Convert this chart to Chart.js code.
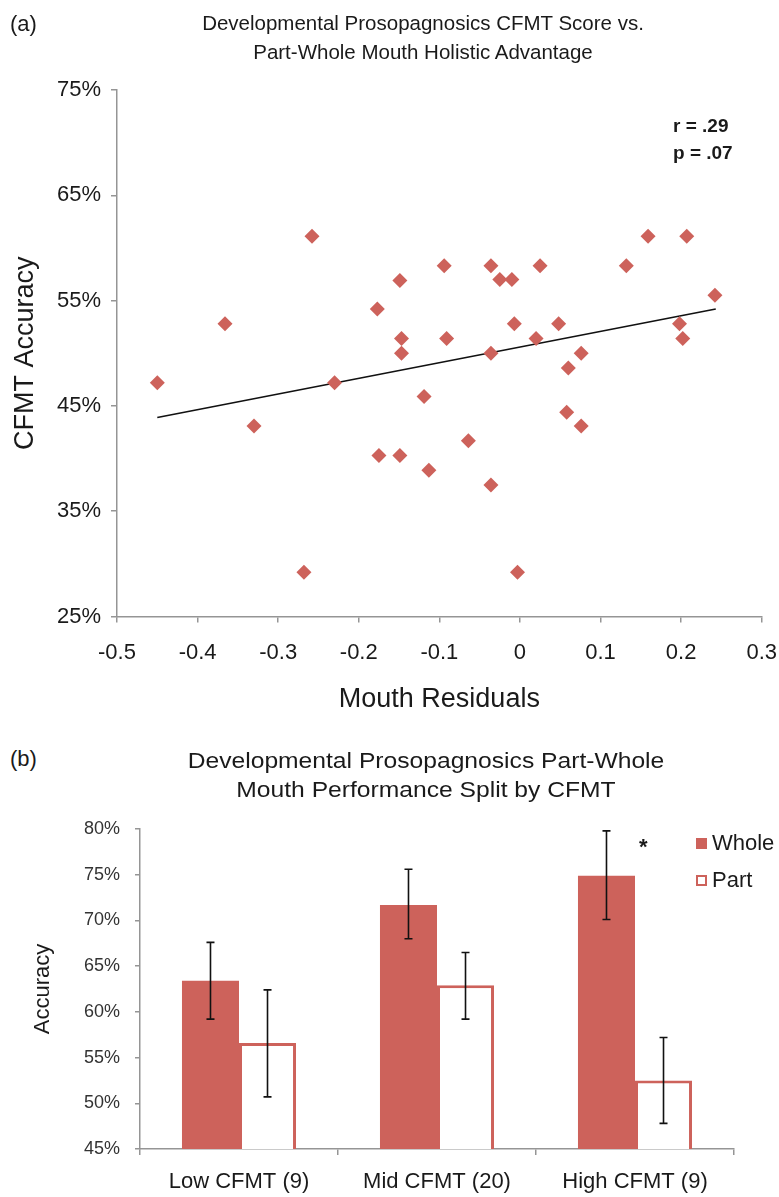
<!DOCTYPE html>
<html>
<head>
<meta charset="utf-8">
<script src="https://cdn.jsdelivr.net/npm/chart.js@4.4.1/dist/chart.umd.min.js"></script>
<style>
	body { margin: 0; background: #fff; font-family: "Liberation Sans", Arial, sans-serif; color: #1a1a1a; }
	#page { position: relative; width: 779px; height: 1197px; overflow: hidden; }
	.box { position: absolute; left: 0; width: 779px; }
	.lbl { position: absolute; white-space: nowrap; }
	.title { position: absolute; left: 0; width: 846px; text-align: center; line-height: 29px; white-space: nowrap; }
	.leg { position: absolute; left: 696px; font-size: 22px; line-height: 26px; }
	.leg span { display: inline-block; width: 11px; height: 11px; margin-right: 5px; box-sizing: border-box; vertical-align: 1px; }
</style>
</head>
<body>
<div id="page">
	<div class="box" style="top:0; height:716px; width:794px;"><canvas id="scatterChart"></canvas></div>
	<div class="box" style="top:800px; height:397px;"><canvas id="barChart"></canvas></div>

	<div class="lbl" style="left:10px; top:9px; font-size:22px; line-height:29px;">(a)</div>
	<div class="title" style="top:8px; font-size:20.5px;">Developmental Prosopagnosics CFMT Score vs.<br>Part-Whole Mouth Holistic Advantage</div>
	<div class="lbl" style="left:673px; top:112px; font-size:19px; font-weight:bold; line-height:27px;">r = .29<br>p = .07</div>

	<div class="lbl" style="left:10px; top:744px; font-size:22px; line-height:29px;">(b)</div>
	<div class="title" style="top:746px; font-size:22px; width:852px; transform:scaleX(1.12); transform-origin:426px 0;">Developmental Prosopagnosics Part-Whole<br>Mouth Performance Split by CFMT</div>
	<div class="lbl" style="left:639px; top:834px; font-size:22px; font-weight:bold;">*</div>
	<div id="legend"></div>
</div>

<script>
// (a) scatter: mouth residuals vs CFMT accuracy (%)
var residX = [-0.450, -0.366, -0.330, -0.258, -0.230, -0.177, -0.175, -0.149, -0.149, -0.147,
	-0.147, -0.119, -0.113, -0.094, -0.091, -0.064, -0.036, -0.036, -0.036, -0.025,
	-0.010, -0.007, -0.003, 0.020, 0.025, 0.048, 0.058, 0.060, 0.076, 0.076,
	0.132, 0.159, 0.198, 0.202, 0.207, 0.242, -0.268];
var cfmtAcc = [47.2, 52.8, 43.1, 61.1, 47.2, 54.2, 40.3, 56.9, 40.3, 51.4,
	50.0, 45.9, 38.9, 58.3, 51.4, 41.7, 58.3, 50.0, 37.5, 57.0,
	57.0, 52.8, 29.2, 51.4, 58.3, 52.8, 44.4, 48.6, 50.0, 43.1,
	58.3, 61.1, 52.8, 51.4, 61.1, 55.5, 29.2];
// trend line end points
var fitX = [-0.450, 0.243];
var fitY = [43.9, 54.2];

// (b) bars: accuracy (%) by CFMT group
var groups = ["Low CFMT (9)", "Mid CFMT (20)", "High CFMT (9)"];
var seriesNames = ["Whole", "Part"];
var wholeAcc = [63.4, 71.7, 74.9];
var partAcc = [56.6, 62.9, 52.5];
var wholeHi = [67.6, 75.6, 79.8];
var wholeLo = [59.2, 68.0, 70.1];
var partHi = [62.4, 66.5, 57.2];
var partLo = [50.7, 59.2, 47.8];

var red = "#cd625b";
var axisGrey = "#959595";

Chart.defaults.font.family = '"Liberation Sans", Arial, sans-serif';
Chart.defaults.color = "#1a1a1a";
Chart.defaults.animation = false;

var points = [];
for (var i = 0; i < residX.length; i++) {
	points.push({ x: residX[i], y: cfmtAcc[i] });
}
var fitLine = [];
for (var k = 0; k < fitX.length; k++) {
	fitLine.push({ x: fitX[k], y: fitY[k] });
}

new Chart(document.getElementById("scatterChart"), {
	type: "scatter",
	data: {
		datasets: [
			{
				data: points,
				pointStyle: "rectRot",
				pointRadius: 7.5,
				pointBorderWidth: 0,
				backgroundColor: red,
				borderColor: red,
			},
			{
				type: "line",
				data: fitLine,
				borderColor: "#111",
				borderWidth: 1.6,
				pointRadius: 0,
				fill: false,
			},
		],
	},
	options: {
		responsive: true,
		maintainAspectRatio: false,
		layout: { padding: { top: 90, right: 1, left: 0, bottom: 0 } },
		plugins: { legend: { display: false }, tooltip: { enabled: false } },
		scales: {
			x: {
				type: "linear",
				min: -0.5,
				max: 0.3,
				ticks: {
					stepSize: 0.1,
					font: { size: 22 },
					padding: 17,
					callback: function (v) {
						return (Math.round(v * 10) / 10).toString();
					},
				},
				grid: { drawOnChartArea: false, tickLength: 6, color: axisGrey, lineWidth: 1.5 },
				border: { color: axisGrey, width: 1.5 },
				title: { display: true, text: "Mouth Residuals", font: { size: 27 }, padding: { top: 0, bottom: 0 } },
				afterFit: function (scale) {
					scale.height = 99.5;
				},
			},
			y: {
				min: 25,
				max: 75,
				ticks: {
					stepSize: 10,
					font: { size: 22 },
					padding: 10,
					callback: function (v) {
						return v + "%";
					},
				},
				grid: { drawOnChartArea: false, tickLength: 6, color: axisGrey, lineWidth: 1.5 },
				border: { color: axisGrey, width: 1.5 },
				title: { display: true, text: "CFMT Accuracy", font: { size: 27 }, padding: { top: 9, bottom: 0 } },
				afterFit: function (scale) {
					scale.width = 117;
				},
			},
		},
	},
});

// error bars for the grouped bars
var errorBars = {
	id: "errorBars",
	afterDatasetsDraw: function (chart) {
		var ctx = chart.ctx;
		var yScale = chart.scales.y;
		ctx.save();
		ctx.strokeStyle = "#111";
		ctx.lineWidth = 1.6;
		chart.data.datasets.forEach(function (ds, di) {
			var meta = chart.getDatasetMeta(di);
			meta.data.forEach(function (bar, j) {
				var top = yScale.getPixelForValue(ds.errHi[j]);
				var bot = yScale.getPixelForValue(ds.errLo[j]);
				ctx.beginPath();
				ctx.moveTo(bar.x, top);
				ctx.lineTo(bar.x, bot);
				ctx.moveTo(bar.x - 4, top);
				ctx.lineTo(bar.x + 4, top);
				ctx.moveTo(bar.x - 4, bot);
				ctx.lineTo(bar.x + 4, bot);
				ctx.stroke();
			});
		});
		ctx.restore();
	},
};

var barChart = new Chart(document.getElementById("barChart"), {
	type: "bar",
	data: {
		labels: groups,
		datasets: [
			{
				label: seriesNames[0],
				data: wholeAcc,
				errHi: wholeHi,
				errLo: wholeLo,
				backgroundColor: red,
				borderWidth: 0,
				categoryPercentage: 0.576,
				barPercentage: 1.0,
			},
			{
				label: seriesNames[1],
				data: partAcc,
				errHi: partHi,
				errLo: partLo,
				backgroundColor: "#fff",
				borderColor: red,
				borderWidth: 3,
				borderSkipped: false,
				categoryPercentage: 0.576,
				barPercentage: 1.0,
			},
		],
	},
	options: {
		responsive: true,
		maintainAspectRatio: false,
		layout: { padding: { top: 29, right: 45, left: 0, bottom: 0 } },
		plugins: { legend: { display: false }, tooltip: { enabled: false } },
		scales: {
			x: {
				ticks: { font: { size: 22 }, padding: 14 },
				grid: { offset: true, drawOnChartArea: false, tickLength: 6, color: axisGrey, lineWidth: 1.5 },
				border: { color: axisGrey, width: 1.5 },
				afterFit: function (scale) {
					scale.height = 48;
				},
			},
			y: {
				min: 45,
				max: 80,
				ticks: {
					stepSize: 5,
					font: { size: 18 },
					color: "#333",
					padding: 15,
					callback: function (v) {
						return v + "%";
					},
				},
				grid: { drawOnChartArea: false, tickLength: 5, color: axisGrey, lineWidth: 1.5 },
				border: { color: axisGrey, width: 1.5 },
				title: { display: true, text: "Accuracy", font: { size: 22 }, padding: { top: 30, bottom: 0 } },
				afterFit: function (scale) {
					scale.width = 140;
				},
			},
		},
	},
	plugins: [errorBars],
});

// legend built from the bar datasets
var legendHtml = "";
var legendTops = [830, 867];
barChart.data.datasets.forEach(function (ds, i) {
	var sw = i === 0 ? "background:" + ds.backgroundColor + ";" : "background:#fff;border:2.5px solid " + ds.borderColor + ";";
	legendHtml += '<div class="leg" style="top:' + legendTops[i] + 'px;"><span style="' + sw + '"></span>' + ds.label + "</div>";
});
document.getElementById("legend").innerHTML = legendHtml;
</script>
</body>
</html>
